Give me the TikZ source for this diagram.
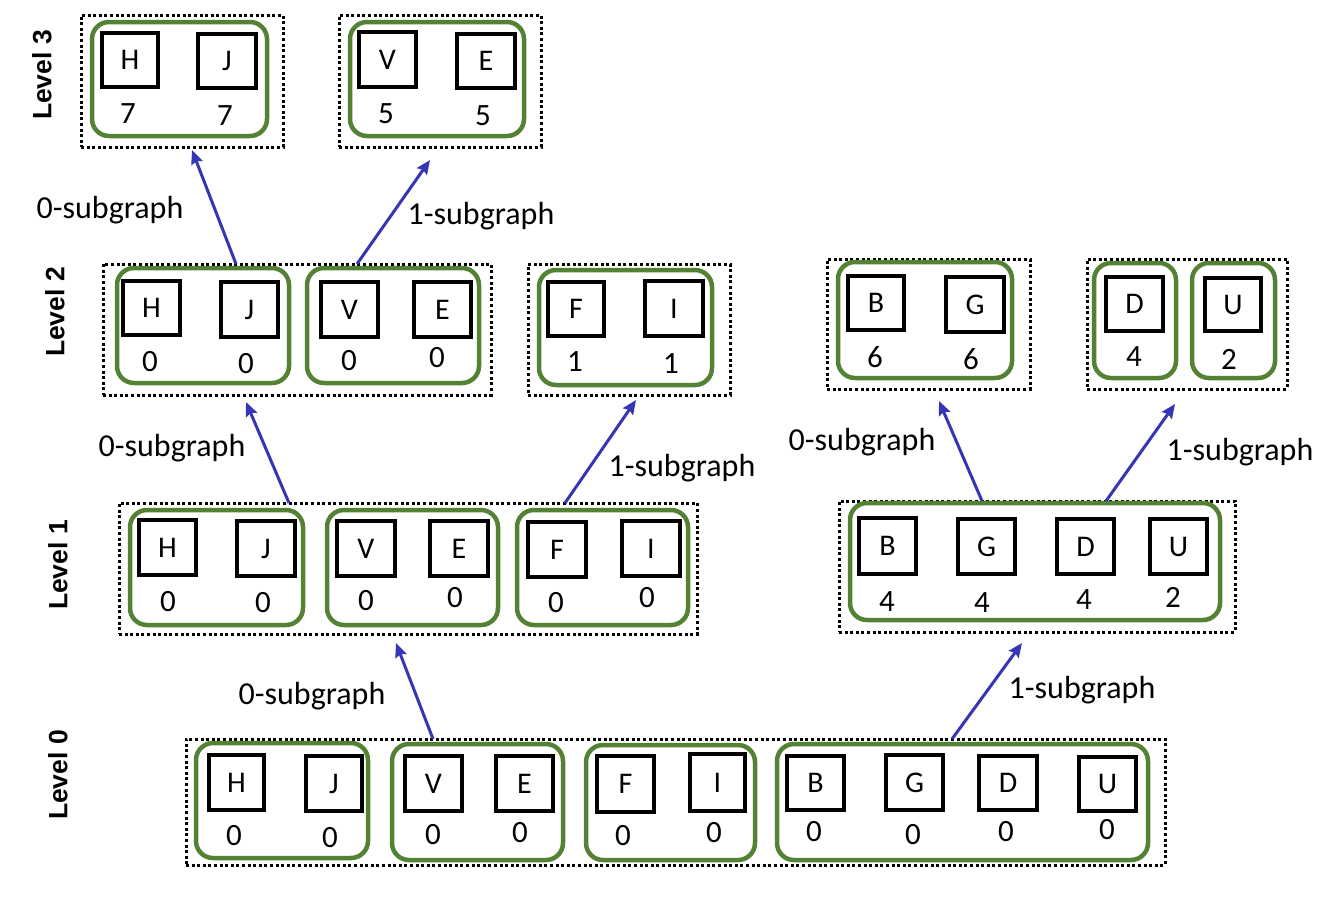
\documentclass[tikz,border=0pt]{standalone}
\usepackage{fontspec}
\setmainfont{Carlito}
\newfontfamily\lvfont{Liberation Sans}
\usetikzlibrary{fit,arrows.meta}
\definecolor{grn}{HTML}{548235}
\definecolor{arrblue}{HTML}{3535B5}
\tikzset{
 lbox/.style={draw=black, line width=3.3pt, inner sep=0pt},
 ltr/.style={font=\fontsize{30}{36}\selectfont, inner sep=0pt},
 num/.style={font=\fontsize{31}{36}\selectfont, inner sep=0pt},
 grp/.style={draw=grn, line width=4.5pt, rounded corners=17pt, inner sep=0pt},
 dotbox/.style={draw=black, line width=3pt, dash pattern=on 3pt off 2.6pt, inner sep=0pt},
 arr/.style={draw=arrblue, line width=3pt, -{Stealth[length=14pt,width=12pt,inset=2pt]}},
 sub/.style={font=\fontsize{32}{38}\selectfont, inner sep=0pt},
 lvl/.style={font=\lvfont\bfseries\fontsize{26.5}{30}\selectfont, rotate=90, inner sep=0pt},
}
% letter box: name, x1, y1, x2, y2, letter
\newcommand\lb[6]{\node[lbox, fit={(#2,#3) (#4,#5)}, label={[ltr]center:#6}] (#1) {};}
% group box: style, name, x1, y1, x2, y2
\newcommand\gb[6]{\node[#1, fit={(#3,#4) (#5,#6)}] (#2) {};}
\begin{document}
\begin{tikzpicture}[x=1pt, y=-1pt]
\useasboundingbox (0,0) rectangle (1333,903);

% ---------- Level labels ----------
\node[lvl] (lv3) at (42,75) {Level 3};
\node[lvl] (lv2) at (55,312) {Level 2};
\node[lvl] (lv1) at (58,565) {Level 1};
\node[lvl] (lv0) at (58,775) {Level 0};

% ---------- Level 3 ----------
\gb{dotbox}{d3a}{81}{15}{283}{147}
\gb{grp}{g3a}{92}{22}{267}{136}
\lb{h3}{102}{33}{158}{87}{H}
\lb{j3}{198}{34}{256}{88}{J}
\node[num] (nh3) at (128,114) {7};
\node[num] (nj3) at (225,116) {7};

\gb{dotbox}{d3b}{339}{15}{541}{147}
\gb{grp}{g3b}{350}{22}{524}{136}
\lb{v3}{359}{32}{416}{87}{V}
\lb{e3}{457}{34}{515}{88}{E}
\node[num] (nv3) at (386,114) {5};
\node[num] (ne3) at (483,116) {5};

% ---------- Level 2 ----------
\gb{dotbox}{d2a}{103}{264}{491}{395}
\gb{grp}{g2a}{117}{268}{289}{383}
\lb{h2}{123}{281}{180}{335}{H}
\lb{j2}{221}{282}{278}{337}{J}
\node[num] (nh2) at (150,362) {0};
\node[num] (nj2) at (246,364) {0};
\gb{grp}{g2b}{307}{268}{479}{383}
\lb{v2}{321}{282}{378}{337}{V}
\lb{e2}{414}{282}{471}{337}{E}
\node[num] (nv2) at (349,361) {0};
\node[num] (ne2) at (437,358) {0};

\gb{dotbox}{d2b}{528}{264}{730}{395}
\gb{grp}{g2c}{539}{270}{712}{385}
\lb{f2}{548}{282}{604}{336}{F}
\lb{i2}{645}{281}{703}{336}{I}
\node[num] (nf2) at (575,362) {1};
\node[num] (ni2) at (671,364) {1};

\gb{dotbox}{d2c}{827}{259}{1030}{389}
\gb{grp}{g2d}{838}{262}{1012}{378}
\lb{b2}{848}{276}{904}{330}{B}
\lb{g2}{946}{277}{1004}{332}{G}
\node[num] (nb2) at (875,357) {6};
\node[num] (ng2) at (971,359) {6};

\gb{dotbox}{d2d}{1087}{259}{1287}{389}
\gb{grp}{g2e}{1094}{263}{1176}{378}
\lb{d2}{1106}{277}{1163}{331}{D}
\node[num] (nd2) at (1134,357) {4};
\gb{grp}{g2f}{1192}{263}{1275}{378}
\lb{u2}{1205}{278}{1261}{331}{U}
\node[num] (nu2) at (1229,359) {2};

% ---------- Level 1 ----------
\gb{dotbox}{d1a}{119}{503}{697}{634}
\gb{grp}{g1a}{130}{510}{303}{625}
\lb{h1}{139}{520}{196}{575}{H}
\lb{j1}{237}{521}{295}{576}{J}
\node[num] (nh1) at (168,602) {0};
\node[num] (nj1) at (263,603) {0};
\gb{grp}{g1b}{327}{510}{498}{625}
\lb{v1}{337}{521}{395}{576}{V}
\lb{e1}{430}{521}{488}{576}{E}
\node[num] (nv1) at (366,601) {0};
\node[num] (ne1) at (455,598) {0};
\gb{grp}{g1c}{517}{510}{688}{625}
\lb{f1}{528}{522}{586}{577}{F}
\lb{i1}{622}{521}{680}{576}{I}
\node[num] (nf1) at (556,603) {0};
\node[num] (ni1) at (647,598) {0};

\gb{dotbox}{d1b}{839}{501}{1235}{632}
\gb{grp}{g1d}{850}{503}{1220}{620}
\lb{b1}{859}{518}{916}{574}{B}
\lb{g1}{958}{519}{1015}{574}{G}
\lb{d1}{1057}{519}{1114}{574}{D}
\lb{u1}{1150}{519}{1207}{574}{U}
\node[num] (nb1) at (887,602) {4};
\node[num] (ng1) at (982,603) {4};
\node[num] (nd1) at (1084,600) {4};
\node[num] (nu1) at (1173,597) {2};

% ---------- Level 0 ----------
\gb{dotbox}{d0}{186}{739}{1165}{865}
\gb{grp}{g0a}{196}{743}{368}{858}
\lb{h0}{209}{755}{264}{810}{H}
\lb{j0}{306}{756}{362}{811}{J}
\node[num] (nh0) at (234,836) {0};
\node[num] (nj0) at (330,838) {0};
\gb{grp}{g0b}{392}{744}{563}{860}
\lb{v0}{405}{756}{462}{811}{V}
\lb{e0}{496}{756}{553}{811}{E}
\node[num] (nv0) at (433,835) {0};
\node[num] (ne0) at (520,833) {0};
\gb{grp}{g0c}{586}{745}{755}{860}
\lb{f0}{597}{756}{654}{812}{F}
\lb{i0}{690}{754}{745}{811}{I}
\node[num] (nf0) at (623,836) {0};
\node[num] (ni0) at (714,833) {0};
\gb{grp}{g0d}{777}{744}{1148}{860}
\lb{b0}{787}{756}{844}{810}{B}
\lb{gg0}{886}{755}{943}{810}{G}
\lb{d0b}{979}{756}{1037}{810}{D}
\lb{u0}{1079}{757}{1136}{811}{U}
\node[num] (nb0) at (814,832) {0};
\node[num] (ng0) at (913,835) {0};
\node[num] (nd0) at (1006,832) {0};
\node[num] (nu0) at (1107,830) {0};

% ---------- Arrows ----------
\coordinate (s1) at (433,739);  \coordinate (t1) at (396,643);
\coordinate (s2) at (952,739);  \coordinate (t2) at (1022,643);
\coordinate (s3) at (289,503);  \coordinate (t3) at (246,402);
\coordinate (s4) at (565,503);  \coordinate (t4) at (636,400);
\coordinate (s5) at (982,501);  \coordinate (t5) at (939,401);
\coordinate (s6) at (1106,501); \coordinate (t6) at (1175,404);
\coordinate (s7) at (236,264);  \coordinate (t7) at (192,150);
\coordinate (s8) at (357,264);  \coordinate (t8) at (430,160);
\draw[arr] (s1) -- (t1);
\draw[arr] (s2) -- (t2);
\draw[arr] (s3) -- (t3);
\draw[arr] (s4) -- (t4);
\draw[arr] (s5) -- (t5);
\draw[arr] (s6) -- (t6);
\draw[arr] (s7) -- (t7);
\draw[arr] (s8) -- (t8);

\node[sub] (l1) at (312,696) {0-subgraph};
\node[sub] (l2) at (1082,690) {1-subgraph};
\node[sub] (l3) at (172,448) {0-subgraph};
\node[sub] (l4) at (682,468) {1-subgraph};
\node[sub] (l5) at (862,442) {0-subgraph};
\node[sub] (l6) at (1240,452) {1-subgraph};
\node[sub] (l7) at (110,210) {0-subgraph};
\node[sub] (l8) at (481,216) {1-subgraph};
\end{tikzpicture}
\end{document}
